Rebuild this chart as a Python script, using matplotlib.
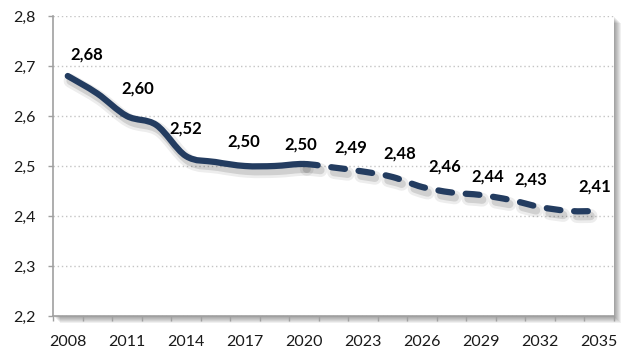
import numpy as np
import matplotlib
matplotlib.use("Agg")
import matplotlib.pyplot as plt
import matplotlib.patheffects as pe
from matplotlib.path import Path
from matplotlib.patches import PathPatch, Rectangle
from matplotlib.ticker import FuncFormatter, MultipleLocator

plt.rcParams['font.family'] = ['Lato', 'DejaVu Sans']

# one value per category, every 1.5 years from 2008 to 2035
values = [2.68, 2.645, 2.60, 2.582, 2.52, 2.508, 2.50, 2.50, 2.504, 2.497,
          2.489, 2.478, 2.458, 2.447, 2.442, 2.432, 2.418, 2.41, 2.41]
year_labels = [2008, 2011, 2014, 2017, 2020, 2023, 2026, 2029, 2032, 2035]
last_actual = 8  # solid up to 2020, dashed projection after

# which points carry a value label, and where the label sits (pixels from the point)
label_idx = [0, 2, 4, 6, 8, 10, 11, 12, 14, 15, 18]
label_off = [(19, 16), (11, 22), (0, 22), (-1, 19), (-3, 14), (-12, 19),
             (7, 18), (23, 15), (7, 13), (20, 15), (-4, 19)]

navy = '#233c60'
x = np.arange(len(values))
pts = np.column_stack([x, values]).astype(float)


def smooth_path(pts, a, b):
    # Catmull-Rom style bezier through pts[a..b], tangents taken from the full series
    n = len(pts)
    verts = [pts[a]]
    codes = [Path.MOVETO]
    for i in range(a, b):
        p0 = pts[max(i - 1, 0)]
        p1 = pts[i]
        p2 = pts[i + 1]
        p3 = pts[min(i + 2, n - 1)]
        c1 = p1 + (p2 - p0) / 6.0
        c2 = p2 - (p3 - p1) / 6.0
        verts += [c1, c2, p2]
        codes += [Path.CURVE4] * 3
    return Path(np.array(verts), codes)


fig = plt.figure(figsize=(6.3, 3.51), dpi=100)
W, H = 630, 351
x0, x1, ytop, ybot = 53, 614, 16, 316
ax = fig.add_axes([x0 / W, (H - ybot) / H, (x1 - x0) / W, (ybot - ytop) / H])
ax.set_facecolor('white')

# soft drop shadow of the plot area
for d in range(1, 8):
    fig.patches.append(Rectangle(((x0 + d) / W, (H - ybot - d) / H),
                                 (x1 - x0) / W, (ybot - ytop) / H,
                                 transform=fig.transFigure, facecolor='k',
                                 alpha=0.06, lw=0, zorder=-1))

shadow = [pe.SimpleLineShadow(offset=(2, -3.5), shadow_color='k', alpha=0.07, linewidth=10),
          pe.SimpleLineShadow(offset=(2, -3.5), shadow_color='k', alpha=0.12, linewidth=6),
          pe.Normal()]

solid = PathPatch(smooth_path(pts, 0, last_actual), fill=False, edgecolor=navy,
                  lw=4.5, capstyle='round', joinstyle='round', zorder=3)
solid.set_path_effects(shadow)
ax.add_patch(solid)

dashed = PathPatch(smooth_path(pts, last_actual, len(pts) - 1), fill=False,
                   edgecolor=navy, lw=4.5, linestyle=(0, (2.2, 2.2)),
                   capstyle='round', joinstyle='round', zorder=3)
dashed.set_path_effects(shadow)
ax.add_patch(dashed)

for i, (dx, dy) in zip(label_idx, label_off):
    ax.annotate(f'{values[i]:.2f}'.replace('.', ','), (x[i], values[i]),
                xytext=(dx, dy), textcoords='offset pixels', ha='center',
                va='baseline', fontsize=12, fontweight='bold', color='black',
                zorder=4)

ax.set_xlim(-0.5, len(values) - 0.5)
ax.set_ylim(2.2, 2.8)
ax.yaxis.set_major_locator(MultipleLocator(0.1))
ax.yaxis.set_major_formatter(FuncFormatter(lambda v, p: f'{v:.1f}'.replace('.', ',')))
ax.set_xticks(x[::2])
ax.set_xticklabels([str(y) for y in year_labels])
ax.set_xticks(np.arange(len(values) + 1) - 0.5, minor=True)

ax.tick_params(axis='x', which='major', length=0, pad=13.5, labelsize=11.5,
               labelcolor='#1a1a1a')
ax.tick_params(axis='x', which='minor', length=3.6, width=1, color='#a0a0a0',
               direction='out')
ax.tick_params(axis='y', length=3.6, width=1, color='#a0a0a0', pad=8.6,
               labelsize=11.5, labelcolor='#1a1a1a')

ax.grid(axis='y', color='#c4c4c4', linestyle=(0, (1, 2)), linewidth=1)
ax.set_axisbelow(True)
for s in ['top', 'right']:
    ax.spines[s].set_visible(False)
for s in ['left', 'bottom']:
    ax.spines[s].set_color('#a0a0a0')
    ax.spines[s].set_linewidth(1.2)
    ax.spines[s].set_zorder(2.5)

fig.savefig('out.png', dpi=100, facecolor='white')
